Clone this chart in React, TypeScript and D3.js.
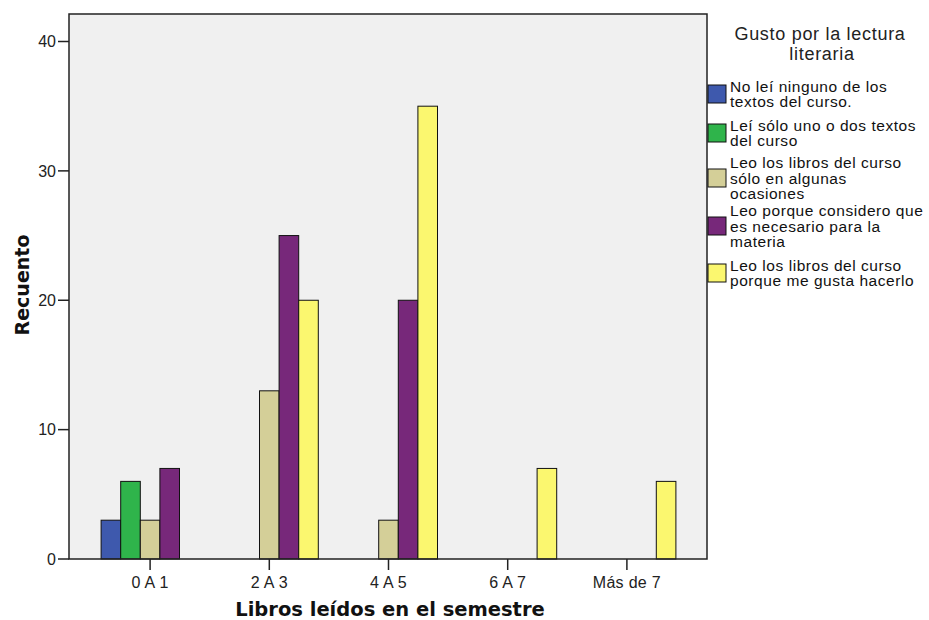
import React from "react";
import * as d3 from "d3";

const categories = ["0 A 1", "2 A 3", "4 A 5", "6 A 7", "Más de 7"];
const seriesNames = [
  "No leí ninguno de los textos del curso.",
  "Leí sólo uno o dos textos del curso",
  "Leo los libros del curso sólo en algunas ocasiones",
  "Leo porque considero que es necesario para la materia",
  "Leo los libros del curso porque me gusta hacerlo",
];
const legendLines = [
  ["No leí ninguno de los", "textos del curso."],
  ["Leí sólo uno o dos textos", "del curso"],
  ["Leo los libros del curso", "sólo en algunas", "ocasiones"],
  ["Leo porque considero que", "es necesario para la", "materia"],
  ["Leo los libros del curso", "porque me gusta hacerlo"],
];
const seriesColors = ["#3e59ad", "#2fb44b", "#d4cf98", "#77287a", "#fbf76f"];
// values[series][category]
const values = [
  [3, 0, 0, 0, 0],
  [6, 0, 0, 0, 0],
  [3, 13, 3, 0, 0],
  [7, 25, 20, 0, 0],
  [0, 20, 35, 7, 6],
];
const yTicks = [0, 10, 20, 30, 40];

export default function App() {
  const W = 929, H = 620;
  const frame = { left: 69, right: 707, top: 14, bottom: 559 };
  const y = d3.scaleLinear().domain([0, 40]).range([559, 41.5]);
  const x = d3.scaleBand().domain(categories).range([90.5, 686.5]).padding(0);
  const groupW = 98;
  const xs = d3.scaleBand().domain(seriesNames).range([0, groupW]).padding(0);
  const legendSwatchY = [85, 124, 169, 217, 264];
  const tickFont = "'Liberation Sans', Arial, sans-serif";
  const titleFont = "'DejaVu Sans', Verdana, sans-serif";
  return (
    <svg width={W} height={H} style={{ position: "absolute", left: 0, top: 0, background: "#fff" }}>
      <rect x={frame.left} y={frame.top} width={frame.right - frame.left} height={frame.bottom - frame.top} fill="#f0f0f0" />
      {seriesNames.map((s, si) =>
        categories.map((c, ci) => {
          const v = values[si][ci];
          if (!v) return null;
          const cx = (x(c) as number) + x.bandwidth() / 2 - groupW / 2 + (xs(s) as number);
          return (
            <rect key={s + c} x={cx} y={y(v)} width={xs.bandwidth()} height={y(0) - y(v)}
              fill={seriesColors[si]} stroke="#111" strokeWidth={1} />
          );
        })
      )}
      <rect x={frame.left} y={frame.top} width={frame.right - frame.left} height={frame.bottom - frame.top} fill="none" stroke="#222" strokeWidth={1.5} />
      {yTicks.map((t) => (
        <g key={t}>
          <line x1={58} x2={frame.left} y1={y(t)} y2={y(t)} stroke="#222" strokeWidth={1.5} />
          <text x={56} y={y(t)} dy="0.36em" textAnchor="end" fontFamily={tickFont} fontSize={16} fill="#222">{t}</text>
        </g>
      ))}
      {categories.map((c) => {
        const cx = (x(c) as number) + x.bandwidth() / 2;
        return (
          <g key={c}>
            <line x1={cx} x2={cx} y1={frame.bottom} y2={570} stroke="#222" strokeWidth={1.5} />
            <text x={cx} y={588} textAnchor="middle" fontFamily={tickFont} fontSize={16} letterSpacing={0.3} fill="#222">{c}</text>
          </g>
        );
      })}
      <text x={390} y={616} textAnchor="middle" fontFamily={titleFont} fontWeight="bold" fontSize={19.5} fill="#111">Libros leídos en el semestre</text>
      <text transform="translate(29,285) rotate(-90)" textAnchor="middle" fontFamily={titleFont} fontWeight="bold" fontSize={19} fill="#111">Recuento</text>
      <text x={820} y={40} textAnchor="middle" fontFamily={tickFont} fontSize={18} letterSpacing={0.7} fill="#222">Gusto por la lectura</text>
      <text x={822} y={60} textAnchor="middle" fontFamily={tickFont} fontSize={18} letterSpacing={0.7} fill="#222">literaria</text>
      {seriesNames.map((s, si) => {
        const sy = legendSwatchY[si];
        const lines = legendLines[si];
        const cy = sy + 9;
        const start = cy - ((lines.length - 1) * 15.5) / 2;
        return (
          <g key={s}>
            <rect x={708} y={sy} width={18} height={18} fill={seriesColors[si]} stroke="#111" strokeWidth={1} />
            {lines.map((l, li) => (
              <text key={li} x={730} y={start + li * 15.5} dy="0.36em" fontFamily={tickFont} fontSize={15.5} letterSpacing={0.55} fill="#111">{l}</text>
            ))}
          </g>
        );
      })}
    </svg>
  );
}
